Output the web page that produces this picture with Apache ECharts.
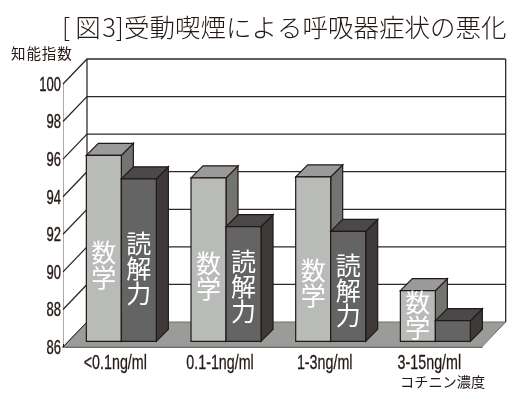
<!DOCTYPE html>
<html>
<head>
<meta charset="utf-8">
<style>
  html, body { margin: 0; padding: 0; background: #fff; }
  #chart { width: 529px; height: 394px; }
</style>
</head>
<body>
<div id="chart"></div>
<script src="https://cdn.jsdelivr.net/npm/echarts@6/dist/echarts.min.js"></script>
<script>
const categories = ['<0.1ng/ml', '0.1-1ng/ml', '1-3ng/ml', '3-15ng/ml']
const mathValues = [95.9, 94.7, 94.75, 88.7]
const readingValues = [94.65, 92.1, 91.85, 87.1]
const yTicks = [86, 88, 90, 92, 94, 96, 98, 100]

// 3D look, px
const wallDx = 24
const wallDy = 25
const barLift = 5.7
const barShift = 6
const barWidth = 35
const barDepth = 12
const LINE = '#231815'
const CJK = '"Noto Sans CJK JP"'
const LABEL_FONT = '21px "Liberation Sans"'

// where the vertical captions sit, axis units
const mathCaptionAt = [90.06, 89.5, 89.1, 87.4]
const readingCaptionAt = [89.9, 88.9, 88.7, null]

function renderWall(params, api) {
  const cs = params.coordSys
  const v = api.value(0)
  const y = api.coord([0, v])[1]
  const left = cs.x
  const right = cs.x + cs.width
  const children = []
  if (v === yTicks[0]) {
    children.push({
      type: 'polygon',
      shape: { points: [[left, y], [left + wallDx, y - wallDy], [right + wallDx, y - wallDy], [right, y]] },
      style: { fill: '#9a9c9a', stroke: '#6f716f', lineWidth: 1 }
    })
    children.push({
      type: 'line',
      shape: { x1: left, y1: y, x2: left + wallDx, y2: y - wallDy },
      style: { stroke: LINE, lineWidth: 1 }
    })
  } else {
    children.push({
      type: 'polyline',
      shape: { points: [[left, y], [left + wallDx, y - wallDy], [right + wallDx, y - wallDy]] },
      style: { fill: null, stroke: '#2b2b2b', lineWidth: 1.3 }
    })
  }
  if (v === yTicks[yTicks.length - 1]) {
    const bottom = api.coord([0, yTicks[0]])[1]
    children.push({
      type: 'line',
      shape: { x1: left + wallDx, y1: y - wallDy, x2: left + wallDx, y2: bottom - wallDy },
      style: { stroke: LINE, lineWidth: 1.2 }
    })
    children.push({
      type: 'line',
      shape: { x1: right + wallDx, y1: y - wallDy, x2: right + wallDx, y2: bottom - wallDy },
      style: { stroke: LINE, lineWidth: 1.2 }
    })
  }
  // condensed tick label
  children.push({
    type: 'text',
    x: left - 2,
    y: y + 1,
    scaleX: 0.62,
    style: { text: String(v), x: 0, y: 0, align: 'right', verticalAlign: 'middle', fill: LINE, stroke: LINE, lineWidth: 0.4, font: LABEL_FONT }
  })
  return { type: 'group', children }
}

function renderCategoryLabel(params, api) {
  const i = api.value(0)
  const p = api.coord([i, yTicks[0]])
  return {
    type: 'text',
    x: p[0],
    y: p[1] + 16,
    scaleX: 0.68,
    style: { text: categories[i], x: 0, y: 0, align: 'center', verticalAlign: 'middle', fill: LINE, stroke: LINE, lineWidth: 0.3, font: LABEL_FONT }
  }
}

function barRenderer(offset, colors, caption, captionAt) {
  return function (params, api) {
    const i = api.value(0)
    const top = api.coord([i, api.value(1)])
    const base = api.coord([i, yTicks[0]])
    const x0 = top[0] + barShift + offset
    const x1 = x0 + barWidth
    const y0 = top[1] - barLift
    const y1 = base[1] - barLift
    const edge = { stroke: LINE, lineWidth: 1.2 }
    const children = [
      { type: 'polygon', shape: { points: [[x1, y0], [x1 + barDepth, y0 - barDepth], [x1 + barDepth, y1 - barDepth], [x1, y1]] }, style: { fill: colors[2], ...edge } },
      { type: 'polygon', shape: { points: [[x0, y0], [x0 + barDepth, y0 - barDepth], [x1 + barDepth, y0 - barDepth], [x1, y0]] }, style: { fill: colors[1], ...edge } },
      { type: 'rect', shape: { x: x0, y: y0, width: barWidth, height: y1 - y0 }, style: { fill: colors[0], ...edge } }
    ]
    if (captionAt[i] != null) {
      children.push({
        type: 'text',
        style: {
          text: caption.split('').join('\n'),
          x: x0 + barWidth / 2,
          y: api.coord([i, captionAt[i]])[1] - barLift,
          align: 'center',
          verticalAlign: 'middle',
          fill: '#fff',
          font: '25px ' + CJK,
          lineHeight: 25
        }
      })
    }
    return { type: 'group', children }
  }
}

const chart = echarts.init(document.getElementById('chart'), null, { renderer: 'canvas' })

chart.setOption({
  animation: false,
  backgroundColor: '#fff',
  title: {
    text: '[\u2009図\u200a3]受動喫煙による呼吸器症状の悪化',
    left: 57,
    top: 10,
    textStyle: { fontFamily: CJK, fontSize: 25.5, fontWeight: 300, color: '#231815' }
  },
  grid: { left: 63, right: 47.3, top: 84, bottom: 47 },
  xAxis: {
    type: 'category',
    data: categories,
    axisLine: { lineStyle: { color: '#6f716f', width: 2 } },
    axisTick: { show: true, length: 3, inside: true, lineStyle: { color: LINE } },
    axisLabel: { show: false }
  },
  yAxis: {
    type: 'value',
    min: 86,
    max: 100,
    interval: 2,
    axisLine: { show: true, lineStyle: { color: '#aaa', width: 1 } },
    axisTick: { show: false },
    splitLine: { show: false },
    axisLabel: { show: false }
  },
  graphic: [{
    type: 'text',
    left: 11,
    top: 46,
    style: { text: '知\u200a能\u200a指\u200a数', fill: LINE, font: '14.5px ' + CJK }
  }, {
    type: 'text',
    left: 400,
    top: 375,
    style: { text: 'コチニン濃度', fill: LINE, font: '14.2px ' + CJK }
  }],
  series: [
    {
      type: 'custom',
      name: 'wall',
      coordinateSystem: 'cartesian2d',
      renderItem: renderWall,
      data: yTicks.map(t => [t]),
      encode: { y: 0 },
      silent: true,
      z: 1
    },
    {
      type: 'custom',
      name: 'categoryLabels',
      renderItem: renderCategoryLabel,
      data: categories.map((c, i) => [i]),
      encode: { x: 0 },
      silent: true,
      z: 1
    },
    {
      type: 'custom',
      name: '数学',
      renderItem: barRenderer(-barWidth, ['#b9bbb9', '#999a99', '#727472'], '数学', mathCaptionAt),
      data: mathValues.map((v, i) => [i, v]),
      encode: { x: 0, y: 1 },
      z: 2
    },
    {
      type: 'custom',
      name: '読解力',
      renderItem: barRenderer(0, ['#646464', '#4a4848', '#3e3a3a'], '読解力', readingCaptionAt),
      data: readingValues.map((v, i) => [i, v]),
      encode: { x: 0, y: 1 },
      z: 3
    }
  ]
})
</script>
</body>
</html>
